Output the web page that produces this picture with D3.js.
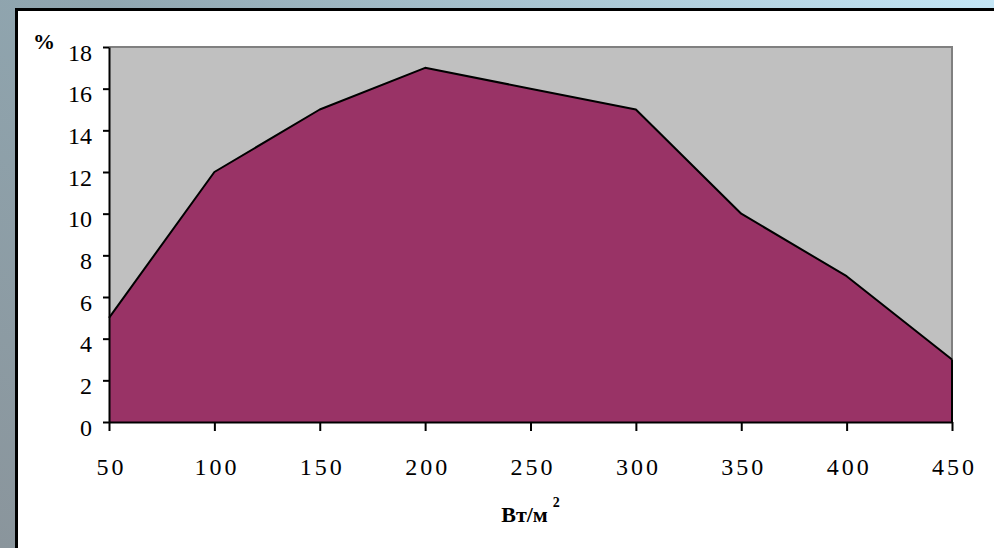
<!DOCTYPE html>
<html>
<head>
<meta charset="utf-8">
<script src="https://cdn.jsdelivr.net/npm/d3@7"></script>
<style>
  html, body { margin: 0; padding: 0; overflow: hidden; background: #fff; }
  svg { display: block; }
</style>
</head>
<body>
<svg width="994" height="548" viewBox="0 0 994 548"></svg>
<script>
// values
const power = [50, 100, 150, 200, 250, 300, 350, 400, 450]
const share = [5, 12, 15, 17, 16, 15, 10, 7, 3]
const yTicks = [0, 2, 4, 6, 8, 10, 12, 14, 16, 18]

const serif = 'Liberation Serif'
const svg = d3.select('svg')
const margin = {top: 47, right: 42, bottom: 126, left: 109}
const width = 994 - margin.left - margin.right
const height = 548 - margin.top - margin.bottom

// slide background
const defs = svg.append('defs')
const grad = defs.append('linearGradient').attr('id', 'bg')
  .attr('x1', 0).attr('y1', 1).attr('x2', 1).attr('y2', 0)
grad.append('stop').attr('offset', '0%').attr('stop-color', '#8a959c')
grad.append('stop').attr('offset', '55%').attr('stop-color', '#90a6b0')
grad.append('stop').attr('offset', '100%').attr('stop-color', '#c4e6f6')
svg.append('rect').attr('width', 994).attr('height', 548).attr('fill', 'url(#bg)')

// chart box: only its left and top borders are in view
svg.append('rect')
  .attr('x', 16.5).attr('y', 9.5)
  .attr('width', 994).attr('height', 548)
  .attr('fill', '#fff')
svg.append('path')
  .attr('d', 'M16.5,548V9.5H994')
  .attr('fill', 'none').attr('stroke', '#000').attr('stroke-width', 3)

const g = svg.append('g')
  .attr('transform', 'translate(' + margin.left + ',' + margin.top + ')')

const x = d3.scaleLinear().domain([50, 450]).range([0, width])
const y = d3.scaleLinear().domain([0, 18]).range([height, 0])

// plot area
g.append('rect')
  .attr('width', width).attr('height', height)
  .attr('fill', '#c0c0c0')
g.append('path')
  .attr('d', 'M0,0H' + width + 'V' + height)
  .attr('fill', 'none').attr('stroke', '#808080').attr('stroke-width', 2)

const data = power.map((p, i) => ({p, v: share[i]}))

g.append('path')
  .datum(data)
  .attr('fill', '#993366')
  .attr('d', d3.area().x(d => x(d.p)).y0(y(0)).y1(d => y(d.v)))

g.append('path')
  .datum(data)
  .attr('fill', 'none')
  .attr('stroke', '#000')
  .attr('stroke-width', 2)
  .attr('stroke-linejoin', 'round')
  .attr('d', d3.line().x(d => x(d.p)).y(d => y(d.v)))

// right edge of the area
g.append('line')
  .attr('x1', x(450)).attr('x2', x(450))
  .attr('y1', y(share[share.length - 1])).attr('y2', y(0))
  .attr('stroke', '#000').attr('stroke-width', 2)

// axes
const yAxis = g.append('g')
  .call(d3.axisLeft(y).tickValues(yTicks).tickSize(6).tickSizeOuter(0))
yAxis.select('.domain').attr('stroke-width', 2)
yAxis.selectAll('.tick line').attr('stroke-width', 2)
yAxis.selectAll('.tick text')
  .attr('x', -17).attr('dy', '0.55em')
  .attr('font-family', serif)
  .attr('font-size', 24)

const xAxis = g.append('g')
  .attr('transform', 'translate(0,' + height + ')')
  .call(d3.axisBottom(x).tickValues(power).tickSize(9).tickSizeOuter(0))
xAxis.select('.domain').attr('stroke-width', 2)
xAxis.selectAll('.tick line').attr('stroke-width', 2)
xAxis.selectAll('.tick text')
  .attr('y', 53).attr('dy', 0)
  .attr('dx', '2px')
  .attr('font-family', serif)
  .attr('font-size', 24)
  .attr('letter-spacing', 3)

// labels
svg.append('text')
  .attr('x', 33).attr('y', 49)
  .attr('font-family', serif)
  .attr('font-size', 22).attr('font-weight', 'bold')
  .text('%')

const unit = svg.append('text')
  .attr('x', margin.left + width / 2).attr('y', 522)
  .attr('text-anchor', 'middle')
  .attr('font-family', serif)
  .attr('font-size', 22).attr('font-weight', 'bold')
unit.append('tspan').text('Вт/м')
unit.append('tspan').attr('dx', 5).attr('dy', -15).attr('font-size', 14).text('2')
</script>
</body>
</html>
